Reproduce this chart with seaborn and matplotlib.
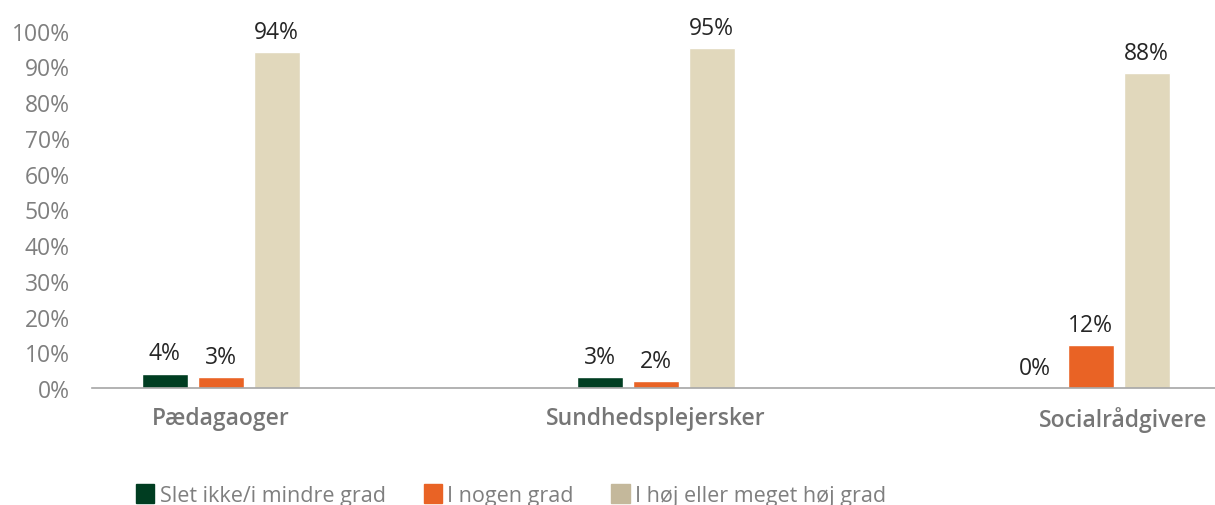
import pandas as pd
import matplotlib.pyplot as plt
import matplotlib.transforms as mtransforms
import seaborn as sns

# Chart data (percent)
categories = ['Pædagaoger', 'Sundhedsplejersker', 'Socialrådgivere']
series = ['Slet ikke/i mindre grad', 'I nogen grad', 'I høj eller meget høj grad']
slet_ikke = [4, 3, 0]
nogen_grad = [3, 2, 12]
hoej_grad = [94, 95, 88]

bar_colors = ['#003D21', '#E96325', '#E1D8BC']
legend_colors = ['#003D21', '#E96325', '#C4B89B']

rows = []
for s, vals in zip(series, [slet_ikke, nogen_grad, hoej_grad]):
    for c, v in zip(categories, vals):
        rows.append({'kategori': c, 'svar': s, 'andel': v})
df = pd.DataFrame(rows)

sns.set_theme(style='white')
plt.rcParams['font.family'] = ['Open Sans', 'DejaVu Sans']

fig = plt.figure(figsize=(12.15, 5.06), dpi=100)
ax = fig.add_axes([0.0757, 0.2312, 0.9243, 0.7065])

sns.barplot(data=df, x='kategori', y='andel', hue='svar', hue_order=series,
            order=categories, palette=bar_colors, width=0.386, gap=0.18,
            saturation=1, ax=ax, legend=True)

for cont in ax.containers:
    ax.bar_label(cont, fmt='%.0f%%', padding=6, fontsize=16.5, color='#262626')

ax.set_ylim(0, 100)
ax.set_xlim(-0.296, 2.286)
ax.set_yticks(range(0, 101, 10))
ax.set_yticklabels([f'{t}%' for t in range(0, 101, 10)])
ax.tick_params(axis='y', length=0, pad=16, labelsize=16.5, labelcolor='#7F7F7F')
ax.tick_params(axis='x', length=0, pad=13, labelsize=16.5, labelcolor='#767676')
for lab in ax.get_xticklabels():
    lab.set_fontweight('semibold')
# last category label sits a bit to the right in the original
last = ax.get_xticklabels()[-1]
last.set_transform(last.get_transform() +
                   mtransforms.ScaledTranslation(33 / 100, 0, fig.dpi_scale_trans))

ax.set_xlabel('')
ax.set_ylabel('')
for side in ['top', 'right', 'left']:
    ax.spines[side].set_visible(False)
ax.spines['bottom'].set_color('#A6A6A6')
ax.spines['bottom'].set_linewidth(1.2)

# legend along the bottom edge
ax.get_legend().remove()
handles = [plt.Rectangle((0, 0), 1, 1, color=c) for c in legend_colors]
fig.legend(handles, series, loc='center left', bbox_to_anchor=(0.105, 0.02),
           ncol=3, frameon=False, fontsize=15.5, labelcolor='#7F7F7F',
           handlelength=0.85, handleheight=1.0, handletextpad=0.25,
           columnspacing=1.75, borderaxespad=0)

fig.savefig('out.png', dpi=100)
